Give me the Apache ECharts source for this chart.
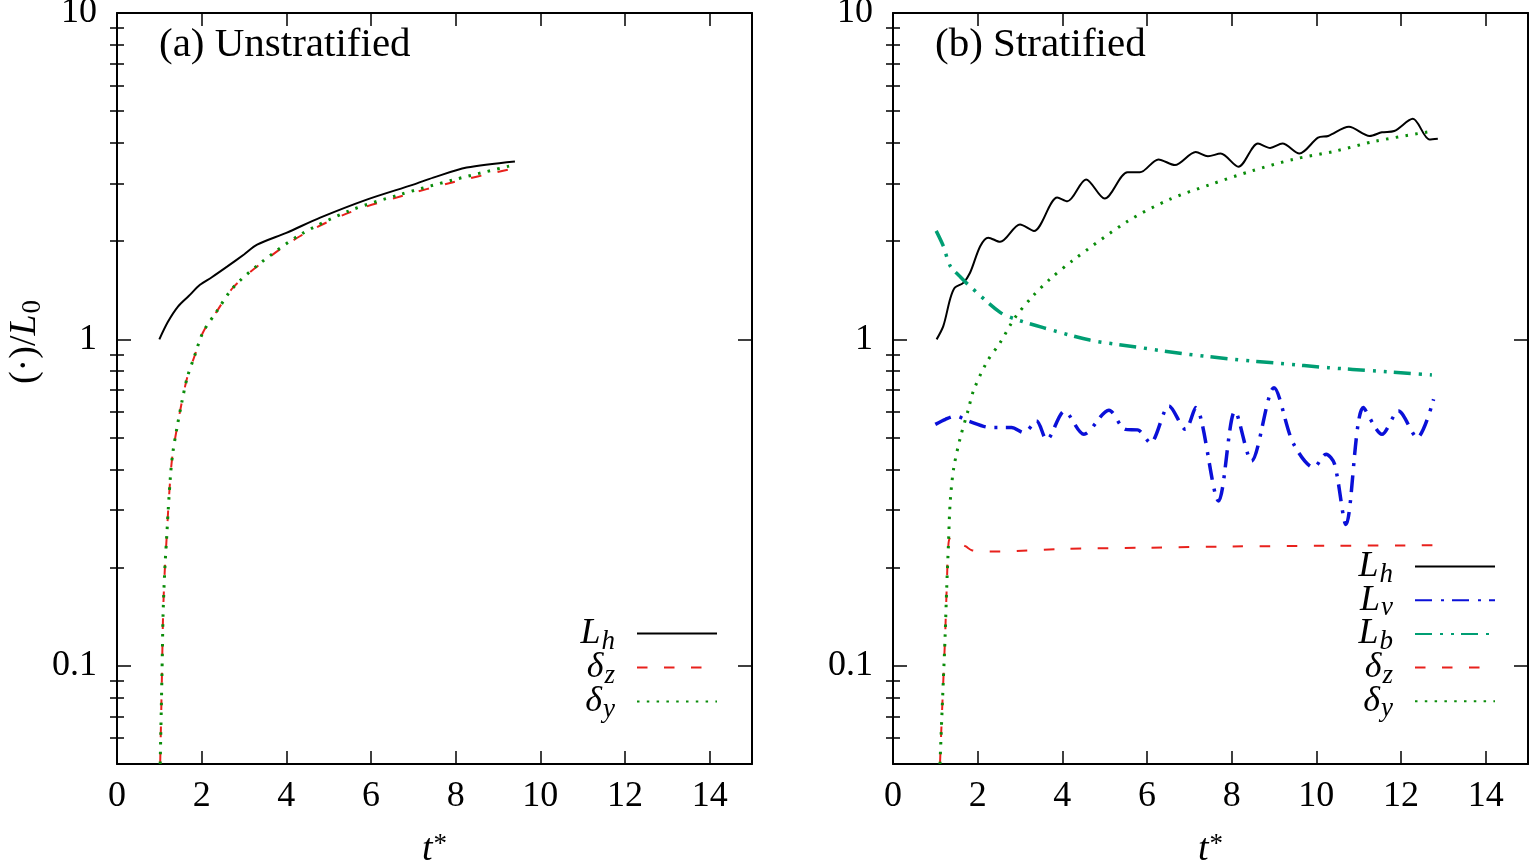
<!DOCTYPE html>
<html>
<head>
<meta charset="utf-8">
<script src="https://cdn.jsdelivr.net/npm/echarts@6/dist/echarts.min.js"></script>
<style>
  html, body { margin: 0; padding: 0; background: #fff; }
  #chart { width: 1531px; height: 861px; }
</style>
</head>
<body>
<div id="chart"></div>
<script>
// (a) Unstratified
const tA_Lh = [1.0, 1.2, 1.44, 1.7, 1.96, 2.24, 2.6, 3.0, 3.31, 4.0, 4.8, 5.9, 7.0, 7.47, 8.26, 9.4];
const a_Lh  = [1.0, 1.13, 1.26, 1.36, 1.47, 1.55, 1.67, 1.82, 1.95, 2.12, 2.36, 2.68, 2.98, 3.13, 3.36, 3.51];
const tA_d  = [1.02, 1.06, 1.09, 1.13, 1.18, 1.21, 1.27, 1.32, 1.41, 1.53, 1.66, 1.82, 2.03, 2.36, 2.74, 3.38, 4.32, 5.5, 6.69, 7.94, 9.28];
const a_dz  = [0.05, 0.091, 0.146, 0.198, 0.256, 0.301, 0.392, 0.451, 0.53, 0.641, 0.765, 0.88, 1.05, 1.22, 1.44, 1.70, 2.07, 2.45, 2.74, 3.03, 3.32];
const a_dy  = [0.05, 0.091, 0.146, 0.198, 0.256, 0.301, 0.392, 0.451, 0.53, 0.641, 0.765, 0.88, 1.05, 1.22, 1.44, 1.71, 2.09, 2.48, 2.78, 3.08, 3.40];

// (b) Stratified
const tB_Lh = [1.03, 1.19, 1.35, 1.46, 1.66, 1.82, 2.06, 2.25, 2.53, 3.0, 3.33, 3.88, 4.12, 4.56, 5.0, 5.54, 5.83, 6.27, 6.66, 7.15, 7.44, 7.74, 8.16, 8.62, 8.91, 9.2, 9.6, 10.04, 10.28, 10.77, 11.26, 11.55, 11.84, 12.28, 12.67, 12.87];
const b_Lh  = [1.0, 1.10, 1.33, 1.44, 1.49, 1.60, 1.93, 2.05, 1.99, 2.25, 2.15, 2.72, 2.65, 3.09, 2.70, 3.25, 3.25, 3.56, 3.42, 3.75, 3.64, 3.71, 3.38, 3.98, 3.86, 3.98, 3.71, 4.15, 4.20, 4.48, 4.20, 4.31, 4.35, 4.74, 4.10, 4.12];
const tB_Lv = [1.0, 1.24, 1.48, 1.78, 2.31, 2.8, 3.09, 3.39, 3.63, 4.05, 4.51, 5.1, 5.49, 5.78, 6.08, 6.52, 6.91, 7.15, 7.69, 8.08, 8.47, 9.0, 9.45, 9.94, 10.23, 10.43, 10.7, 11.11, 11.55, 11.94, 12.38, 12.77];
const b_Lv  = [0.549, 0.569, 0.582, 0.562, 0.537, 0.537, 0.518, 0.562, 0.492, 0.603, 0.512, 0.607, 0.53, 0.528, 0.482, 0.625, 0.53, 0.618, 0.32, 0.603, 0.424, 0.711, 0.482, 0.405, 0.445, 0.415, 0.271, 0.618, 0.512, 0.603, 0.50, 0.655];
const tB_Lb = [1.02, 1.19, 1.35, 1.58, 1.78, 2.53, 2.92, 3.55, 4.65, 5.76, 6.86, 8.04, 9.14, 10.28, 11.43, 12.73];
const b_Lb  = [2.15, 1.93, 1.68, 1.56, 1.47, 1.21, 1.15, 1.086, 0.995, 0.947, 0.904, 0.869, 0.844, 0.819, 0.80, 0.778];
const tB_dz = [1.11, 1.15, 1.19, 1.23, 1.27, 1.31, 1.36, 1.55, 1.72, 1.86, 2.2, 2.5, 4.0, 6.0, 8.0, 10.0, 12.8];
const b_dz  = [0.05, 0.068, 0.091, 0.122, 0.175, 0.236, 0.247, 0.238, 0.232, 0.226, 0.224, 0.224, 0.228, 0.23, 0.232, 0.233, 0.234];
const tB_dy = [1.11, 1.15, 1.19, 1.23, 1.27, 1.31, 1.35, 1.43, 1.58, 1.78, 1.90, 2.21, 2.53, 2.88, 3.31, 3.71, 4.26, 5.54, 6.52, 7.49, 8.47, 9.45, 10.43, 11.4, 12.77];
const b_dy  = [0.05, 0.068, 0.091, 0.122, 0.175, 0.236, 0.316, 0.40, 0.494, 0.61, 0.695, 0.849, 0.977, 1.165, 1.36, 1.53, 1.75, 2.30, 2.68, 2.98, 3.28, 3.56, 3.77, 4.05, 4.35];

// ticks
const xTicks = [0, 2, 4, 6, 8, 10, 12, 14];
const yMajor = [0.1, 1, 10];
const yMinor = [0.06, 0.07, 0.08, 0.09, 0.2, 0.3, 0.4, 0.5, 0.6, 0.7, 0.8, 0.9, 2, 3, 4, 5, 6, 7, 8, 9];

const FONT = 'Liberation Serif';
const frame = { color: '#000', width: 2 };

const pairs = (t, v) => t.map((x, i) => [x, v[i]]);

// subscripts: small token pushed down with top padding
const sub = {
  m: { fontFamily: FONT, fontStyle: 'italic', fontSize: 36, lineHeight: 24, color: '#000' },
  s: { fontFamily: FONT, fontStyle: 'italic', fontSize: 27, lineHeight: 2, padding: [16, 0, 0, 1], color: '#000' }
};
const legendNames = {
  Lh: '{m|L}{s|h}', Lv: '{m|L}{s|v}', Lb: '{m|L}{s|b}', dz: '{m|δ}{s|z}', dy: '{m|δ}{s|y}'
};

function xAxes(g) {
  return [
    {
      type: 'value', gridIndex: g, min: 0, max: 15, position: 'bottom',
      axisLine: { onZero: false, lineStyle: frame },
      axisTick: { inside: true, length: 13, customValues: xTicks, lineStyle: { color: '#000', width: 1.5 } },
      axisLabel: { customValues: xTicks, fontFamily: FONT, fontSize: 36, color: '#000', margin: 15 },
      splitLine: { show: false },
      name: '{t|t}{s|*}', nameLocation: 'middle', nameGap: 66,
      nameTextStyle: {
        rich: {
          t: { fontFamily: FONT, fontStyle: 'italic', fontSize: 38, lineHeight: 40, color: '#000' },
          s: { fontFamily: FONT, fontSize: 27, lineHeight: 2, padding: [0, 0, 10, 1], color: '#000' }
        }
      }
    },
    {
      type: 'value', gridIndex: g, min: 0, max: 15, position: 'top',
      axisLine: { onZero: false, lineStyle: frame },
      axisTick: { inside: true, length: 13, customValues: xTicks, lineStyle: { color: '#000', width: 1.5 } },
      axisLabel: { show: false },
      splitLine: { show: false }
    }
  ];
}

function yAxes(g) {
  const base = { type: 'log', logBase: 10, gridIndex: g, min: 0.05, max: 10, splitLine: { show: false } };
  const tickStyle = { color: '#000', width: 1.5 };
  return [
    {
      ...base, position: 'left',
      axisLine: { onZero: false, lineStyle: frame },
      axisTick: { inside: true, length: 14, customValues: yMajor, lineStyle: tickStyle },
      axisLabel: {
        customValues: yMajor, fontFamily: FONT, fontSize: 36, color: '#000', margin: 20,
        formatter: v => (v < 1 ? v.toFixed(1) : v.toFixed(0))
      }
    },
    {
      ...base, position: 'left',
      axisLine: { show: false },
      axisTick: { inside: true, length: 7, customValues: yMinor, lineStyle: tickStyle },
      axisLabel: { show: false }
    },
    {
      ...base, position: 'right',
      axisLine: { onZero: false, lineStyle: frame },
      axisTick: { inside: true, length: 14, customValues: yMajor, lineStyle: tickStyle },
      axisLabel: { show: false }
    },
    {
      ...base, position: 'right',
      axisLine: { show: false },
      axisTick: { inside: true, length: 7, customValues: yMinor, lineStyle: tickStyle },
      axisLabel: { show: false }
    }
  ];
}

function line(name, data, panel, color, type, width) {
  return {
    name: name, type: 'line', data: data,
    xAxisIndex: panel * 2, yAxisIndex: panel * 4,
    showSymbol: false, symbol: 'none', smooth: 0.3,
    clip: true, silent: true,
    lineStyle: { color: color, width: width, type: type },
    itemStyle: { color: color }
  };
}

const BLACK = '#000000', RED = '#e8211c', GREEN = '#0a8c0a', BLUE = '#0a10d8', TEAL = '#009e73';
const sDash = [10.5, 16.5], sDot = [2.5, 7.3], sDashDot = [17, 9, 3, 8], sDashDotDot = [17, 8, 3, 8, 3, 7];

function legend(names, right, top, gap) {
  return {
    data: names, orient: 'vertical', align: 'right', right: right, top: top,
    padding: 0, itemWidth: 80, itemHeight: 14, itemGap: gap, selectedMode: false,
    itemStyle: { opacity: 0 },
    formatter: n => legendNames[n],
    textStyle: { padding: [0, 17, 0, 0], rich: sub }
  };
}

const chart = echarts.init(document.getElementById('chart'));
chart.setOption({
  animation: false,
  backgroundColor: '#fff',
  grid: [
    { left: 117, top: 13, width: 635, height: 751, outerBoundsMode: 'none' },
    { left: 893, top: 13, width: 635, height: 751, outerBoundsMode: 'none' }
  ],
  xAxis: [...xAxes(0), ...xAxes(1)],
  yAxis: [...yAxes(0), ...yAxes(1)],
  legend: [
    legend(['Lh', 'dz', 'dy'], 813, 612, -9),
    legend(['Lh', 'Lv', 'Lb', 'dz', 'dy'], 35, 545, -9.3)
  ],
  graphic: [
    { type: 'text', x: 159, y: 45, style: { text: '(a) Unstratified', fontFamily: FONT, fontSize: 41, fill: '#000', align: 'left', verticalAlign: 'middle' } },
    { type: 'text', x: 935, y: 45, style: { text: '(b) Stratified', fontFamily: FONT, fontSize: 41, fill: '#000', align: 'left', verticalAlign: 'middle' } },
    {
      type: 'text', x: 25, y: 342, rotation: Math.PI / 2,
      style: {
        text: '{n|(·)/}{m|L}{s|0}', align: 'center', verticalAlign: 'middle',
        rich: {
          n: { fontFamily: FONT, fontSize: 38, lineHeight: 24, fill: '#000' },
          m: { fontFamily: FONT, fontStyle: 'italic', fontSize: 38, lineHeight: 24, fill: '#000' },
          s: { fontFamily: FONT, fontSize: 27, lineHeight: 2, padding: [16, 0, 0, 1], fill: '#000' }
        }
      }
    }
  ],
  series: [
    line('Lh', pairs(tA_Lh, a_Lh), 0, BLACK, 'solid', 2),
    line('dz', pairs(tA_d, a_dz), 0, RED, sDash, 2),
    line('dy', pairs(tA_d, a_dy), 0, GREEN, sDot, 3),
    line('Lh', pairs(tB_Lh, b_Lh), 1, BLACK, 'solid', 2),
    line('Lv', pairs(tB_Lv, b_Lv), 1, BLUE, sDashDot, 3.5),
    line('Lb', pairs(tB_Lb, b_Lb), 1, TEAL, sDashDotDot, 3.5),
    line('dz', pairs(tB_dz, b_dz), 1, RED, sDash, 2),
    line('dy', pairs(tB_dy, b_dy), 1, GREEN, sDot, 3)
  ]
});
</script>
</body>
</html>
